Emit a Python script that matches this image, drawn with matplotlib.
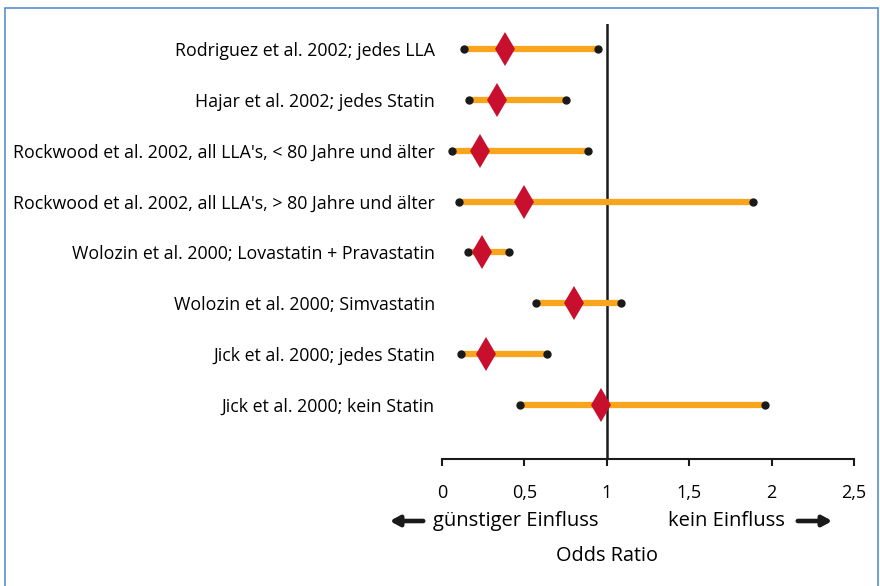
import matplotlib.pyplot as plt
from matplotlib.patches import Rectangle

plt.rcParams['font.family'] = ['Open Sans', 'DejaVu Sans']

# Studien und Odds Ratios (Punktschätzer mit Konfidenzintervall)
studien = [
    "Rodriguez et al. 2002; jedes LLA",
    "Hajar et al. 2002; jedes Statin",
    "Rockwood et al. 2002, all LLA's, < 80 Jahre und älter",
    "Rockwood et al. 2002, all LLA's, > 80 Jahre und älter",
    "Wolozin et al. 2000; Lovastatin + Pravastatin",
    "Wolozin et al. 2000; Simvastatin",
    "Jick et al. 2000; jedes Statin",
    "Jick et al. 2000; kein Statin",
]
odds_ratio = [0.38, 0.335, 0.23, 0.50, 0.245, 0.80, 0.27, 0.965]
ki_unten = [0.135, 0.165, 0.06, 0.105, 0.16, 0.57, 0.115, 0.475]
ki_oben = [0.945, 0.75, 0.885, 1.89, 0.405, 1.085, 0.64, 1.96]
ticks = [0, 0.5, 1, 1.5, 2, 2.5]
tick_labels = ["0", "0,5", "1", "1,5", "2", "2,5"]

fig = plt.figure(figsize=(8.8, 5.86), dpi=100)
ax = fig.add_axes([442/880, 1 - 459/586, 412/880, 435/586])

orange = "#f9a51b"
rot = "#c8102e"

for i in range(len(studien)):
    ax.plot([ki_unten[i], ki_oben[i]], [i, i], color=orange, lw=4.5,
            solid_capstyle="butt", zorder=2)
    ax.plot([ki_unten[i], ki_oben[i]], [i, i], "o", color="#1a1a1a",
            ms=5, zorder=3)
    ax.plot(odds_ratio[i], i, "d", color=rot, ms=17, mew=0, zorder=4)

ax.axvline(1, color="#1a1a1a", lw=1.8, zorder=1)

ax.set_xlim(0, 2.5)
ax.set_ylim(8.06, -0.49)
ax.set_yticks(range(len(studien)))
ax.set_yticklabels(studien, fontsize=12.8)
ax.tick_params(axis="y", length=0, pad=5)
ax.set_xticks(ticks)
ax.set_xticklabels(tick_labels, fontsize=13)
ax.tick_params(axis="x", direction="out", length=5, width=1.5, pad=13,
               color="#1a1a1a")
for s in ["top", "right", "left"]:
    ax.spines[s].set_visible(False)
ax.spines["bottom"].set_linewidth(1.5)
ax.spines["bottom"].set_color("#1a1a1a")

# Beschriftung unter der Achse
fig.text(433/880, 1 - 521/586, "günstiger Einfluss", fontsize=14.5,
         ha="left", va="center")
fig.text(785/880, 1 - 521/586, "kein Einfluss", fontsize=14.5,
         ha="right", va="center")
fig.text(607/880, 1 - 556/586, "Odds Ratio", fontsize=14.3,
         ha="center", va="center")
ax.annotate("", xy=(387/880, 1 - 521/586), xytext=(426/880, 1 - 521/586),
            xycoords="figure fraction",
            arrowprops=dict(arrowstyle="-|>,head_length=0.55,head_width=0.3",
                            lw=3.3, color="#1a1a1a"))
ax.annotate("", xy=(835/880, 1 - 521/586), xytext=(795/880, 1 - 521/586),
            xycoords="figure fraction",
            arrowprops=dict(arrowstyle="-|>,head_length=0.55,head_width=0.3",
                            lw=3.3, color="#1a1a1a"))

# Rahmen
fig.patches.append(Rectangle((5/880, -0.05), 873/880, 1.05 - 8/586,
                             transform=fig.transFigure, fill=False,
                             edgecolor="#5b8fd0", lw=1.2))

plt.savefig("out.png", dpi=100)
